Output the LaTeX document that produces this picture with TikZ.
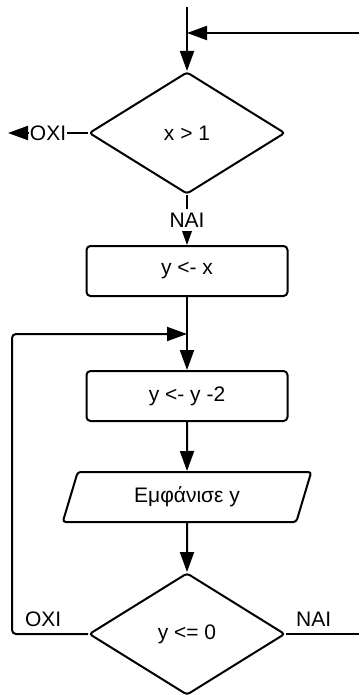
\documentclass[tikz,border=0pt]{standalone}
\usepackage{fontspec}
\setmainfont{Liberation Sans}
\usetikzlibrary{shapes.geometric}
\usetikzlibrary{arrows.meta}

\tikzset{
  decision/.style={draw, diamond, line width=2pt, rounded corners=3pt,
    minimum width=196pt, minimum height=122pt, inner sep=0pt},
  process/.style={draw, rectangle, line width=2pt, rounded corners=4pt,
    minimum width=201pt, minimum height=50pt},
  io/.style={draw, trapezium, trapezium left angle=74, trapezium right angle=106,
    trapezium stretches=true, line width=2pt, rounded corners=3pt,
    minimum width=249pt, minimum height=50pt},
  line/.style={line width=2pt},
  flow/.style={line width=2pt, -{Triangle[length=20pt,width=14pt]}},
  answer/.style={fill=white, inner xsep=1pt, inner ysep=4pt},
}

\begin{document}
\begin{tikzpicture}[x=1pt, y=-1pt, font=\fontsize{21}{25}\selectfont]
    \useasboundingbox (0,0) rectangle (359,695);

    \node [decision] (cond1) at (187,133) {x > 1};
    \node [process] (assign) at (187,271) {y <- x};
    \node [process] (decr) at (187,396) {y <- y -2};
    \node [io] (show) at (187,497) {Εμφάνισε y};
    \node [decision] (cond2) at (187,634) {y <= 0};

    \coordinate (start) at (187,7);
    \coordinate (entry) at (187,33);
    \coordinate (back) at (359,33);
    \coordinate (exit1) at (8,133);
    \coordinate (loop) at (187,334);
    \coordinate (turn) at (12,634);
    \coordinate (exit2) at (359,634);

    % entry and first test
    \draw [line] (start) -- (entry);
    \draw [flow] (back) -- (entry);
    \draw [flow] (entry) -- (cond1.north);
    \draw [flow] (cond1.west) -- node [answer] {OXI} (exit1);
    \draw [flow] (cond1.south) -- node [answer] {NAI} (assign.north);

    % loop body
    \draw [line] (assign.south) -- (loop);
    \draw [flow] (loop) -- (decr.north);
    \draw [flow] (decr.south) -- (show.north);
    \draw [flow] (show.south) -- (cond2.north);

    \draw [flow, rounded corners=4pt] (cond2.west) -- node [above=3pt, pos=.59] {OXI} (turn) |- (loop);
    \draw [line] (cond2.east) -- node [above=3pt, pos=.38] {NAI} (exit2);
  \end{tikzpicture}
\end{document}
